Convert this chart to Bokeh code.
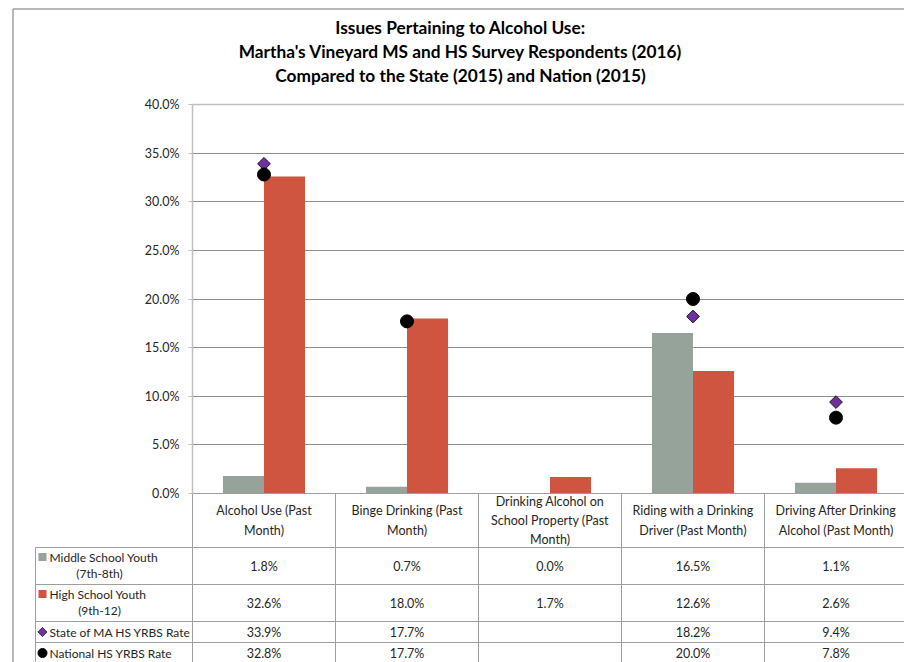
import numpy as np
from bokeh.plotting import figure
from bokeh.models import Range1d, ColumnDataSource, FixedTicker, PrintfTickFormatter, LinearAxis, Grid
from bokeh.transform import dodge
from bokeh.core.properties import value
from bokeh.embed import file_html
from bokeh.resources import INLINE

# ---------------- data ----------------
title_lines = [
    "Issues Pertaining to Alcohol Use:",
    "Martha's Vineyard MS and HS Survey Respondents (2016)",
    "Compared to the State (2015) and Nation (2015)",
]
categories = [
    "Alcohol Use (Past\nMonth)",
    "Binge Drinking (Past\nMonth)",
    "Drinking Alcohol on\nSchool Property (Past\nMonth)",
    "Riding with a Drinking\nDriver (Past Month)",
    "Driving After Drinking\nAlcohol (Past Month)",
]
series_labels = [
    "Middle School Youth\n(7th-8th)",
    "High School Youth\n(9th-12)",
    "State of MA HS YRBS Rate",
    "National HS YRBS Rate",
]
ms_values = [1.8, 0.7, 0.0, 16.5, 1.1]
hs_values = [32.6, 18.0, 1.7, 12.6, 2.6]
state_values = [33.9, 17.7, None, 18.2, 9.4]
national_values = [32.8, 17.7, None, 20.0, 7.8]
y_ticks = [0, 5, 10, 15, 20, 25, 30, 35, 40]

# ---------------- styles / layout constants ----------------
FONT = "Lato"
GREY = "#95A39A"
RED = "#CF5541"
PURPLE = "#7030A0"
BLACK = "#000000"
TXT = "#262626"
GRID = "#8E8E8E"
TABLE_LINE = "#9E9E9E"
AXIS = "#BFBFBF"
BORDER = "#A0A0A0"

W, H = 904, 662            # canvas size (px)
AXIS_CX = 192              # y-axis position (px from canvas left)
N = len(categories)
COL = 143.0                # px per category column
TOP_CY, ZERO_CY = 104, 493 # px rows of the top and zero of the value axis
PX_PER_UNIT = (ZERO_CY - TOP_CY) / (y_ticks[-1] - y_ticks[0])
LEGEND_CX = 35             # left edge of the table legend column
ROW_H = [54, 37, 37, 21, 21]   # header row + 4 series rows (px)
TITLE_CY = [27, 51, 75]
TITLE_CX = 460
BORDER_CX, BORDER_CY = 12.5, 8.5

def xc(cx):
    return (cx - AXIS_CX) / COL

def yc(cy):
    return (ZERO_CY - cy) / PX_PER_UNIT

p = figure(width=W, height=H, toolbar_location=None, output_backend="svg",
           x_range=Range1d(xc(0), xc(W)), y_range=Range1d(yc(H), yc(0)),
           x_axis_type=None, y_axis_type=None,
           min_border=0, min_border_left=0, min_border_right=0,
           min_border_top=0, min_border_bottom=0)
p.outline_line_color = None
p.grid.visible = False

# outer chart border (left + top)
p.segment(x0=[xc(BORDER_CX), xc(BORDER_CX)], y0=[yc(BORDER_CY), yc(BORDER_CY)],
          x1=[xc(BORDER_CX), xc(W)], y1=[yc(H), yc(BORDER_CY)],
          line_color=BORDER, line_width=1.5)

# title
p.text(x=[xc(TITLE_CX)] * len(title_lines), y=[yc(c) for c in TITLE_CY],
       text=title_lines, text_align="center", text_baseline="middle",
       text_font=value(FONT), text_font_size="17.3px", text_font_style="bold",
       text_color=BLACK)

# grid lines (only across the plotting columns)
g = Grid(dimension=1, ticker=FixedTicker(ticks=y_ticks[:-1]),
         grid_line_color=GRID, grid_line_width=1, cross_bounds=(0, xc(W)))
p.add_layout(g)
g_top = Grid(dimension=1, ticker=FixedTicker(ticks=y_ticks[-1:]),
             grid_line_color=AXIS, grid_line_width=1.5, cross_bounds=(0, xc(W)))
p.add_layout(g_top)

# value axis
yaxis = LinearAxis(fixed_location=0, bounds=(y_ticks[0], y_ticks[-1]),
                   ticker=FixedTicker(ticks=y_ticks),
                   formatter=PrintfTickFormatter(format="%.1f%%"))
yaxis.major_label_text_font = FONT
yaxis.major_label_text_font_size = "12.5px"
yaxis.major_label_text_color = TXT
yaxis.major_label_standoff = 9
yaxis.axis_line_color = AXIS
yaxis.axis_line_width = 1.5
yaxis.major_tick_line_color = AXIS
yaxis.major_tick_out = 4
yaxis.major_tick_in = 0
yaxis.minor_tick_line_color = None
p.add_layout(yaxis, "left")

# bars and markers
xpos = np.arange(N) + 0.5
src = ColumnDataSource(dict(
    x=xpos,
    ms=ms_values,
    hs=hs_values,
    state=[np.nan if v is None else v for v in state_values],
    nat=[np.nan if v is None else v for v in national_values],
))
BW = 0.287
p.vbar(x=dodge("x", -BW / 2), top="ms", width=BW, bottom=0, source=src,
       fill_color=GREY, line_color=None)
p.vbar(x=dodge("x", BW / 2), top="hs", width=BW, bottom=0, source=src,
       fill_color=RED, line_color=None)
p.scatter(x="x", y="state", source=src, marker="square", angle=np.pi / 4,
          size=9, fill_color=PURPLE, line_color="#1a1a1a", line_width=1)
p.scatter(x="x", y="nat", source=src, marker="circle", size=13,
          fill_color=BLACK, line_color=BLACK)

# ---------------- data table ----------------
bounds = ZERO_CY + np.cumsum([0] + ROW_H)     # px rows of table lines
x_leg = xc(LEGEND_CX)
x_end = xc(W)
# horizontal lines
hx0 = [0] + [x_leg] * 4
hy = [yc(b) for b in bounds[:5]]
p.segment(x0=hx0, y0=hy, x1=[x_end] * 5, y1=hy, line_color=TABLE_LINE, line_width=1)
# vertical lines
vx = list(range(N)) + [x_leg]
vy0 = [yc(bounds[0])] * N + [yc(bounds[1])]
p.segment(x0=vx, y0=vy0, x1=vx, y1=[yc(H)] * (N + 1),
          line_color=TABLE_LINE, line_width=1)

# header labels
p.text(x=xpos, y=[yc(bounds[0] + ROW_H[0] / 2)] * N, text=categories,
       text_align="center", text_baseline="middle", text_font=value(FONT),
       text_font_size="12.5px", text_color=TXT, text_line_height=1.28)

# value cells
all_series = [ms_values, hs_values, state_values, national_values]
row_mid = [yc(bounds[r + 1] + ROW_H[r + 1] / 2) for r in range(4)]
for r, vals in enumerate(all_series):
    txt = ["" if v is None else f"{v:.1f}%" for v in vals]
    p.text(x=xpos, y=[row_mid[r]] * N, text=txt, text_align="center",
           text_baseline="middle", text_font=value(FONT),
           text_font_size="12.5px", text_color=TXT)

# legend column
MK_CX, TX_CX, L2_CX = 42, 49, 99
first_lines = [s.split("\n")[0] for s in series_labels]
second_lines = [s.split("\n")[1] if "\n" in s else "" for s in series_labels]
line1_y = [yc(bounds[r + 1] + 9.5) if second_lines[r] else row_mid[r] for r in range(4)]
line2_y = [yc(bounds[r + 1] + 25.5) for r in range(4)]

p.scatter(x=[xc(MK_CX)] * 2, y=line1_y[:2], marker="square", size=8,
          fill_color=[GREY, RED], line_color=None)
p.scatter(x=[xc(MK_CX)], y=[line1_y[2]], marker="square", angle=np.pi / 4,
          size=6.5, fill_color=PURPLE, line_color="#1a1a1a", line_width=0.8)
p.scatter(x=[xc(MK_CX)], y=[line1_y[3]], marker="circle", size=9,
          fill_color=BLACK, line_color=BLACK)
p.text(x=[xc(TX_CX)] * 4, y=line1_y, text=first_lines, text_align="left",
       text_baseline="middle", text_font=value(FONT), text_font_size="12px",
       text_color=TXT)
p.text(x=[xc(L2_CX)] * 2, y=line2_y[:2], text=second_lines[:2],
       text_align="center", text_baseline="middle", text_font=value(FONT),
       text_font_size="12px", text_color=TXT)

open("out.html", "w").write(file_html(p, INLINE))
